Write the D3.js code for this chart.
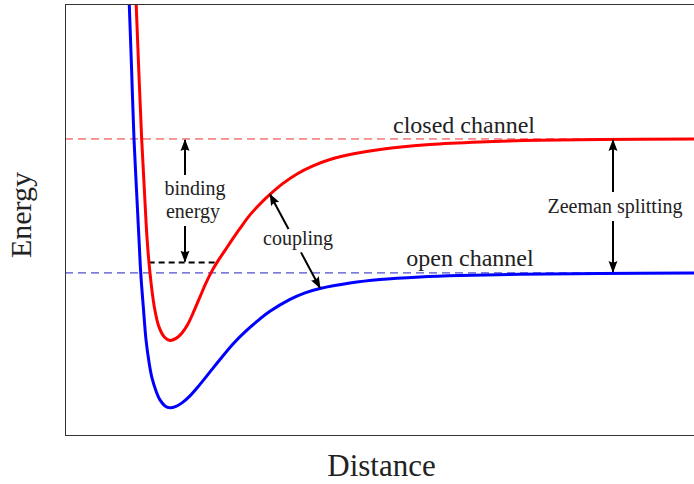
<!DOCTYPE html>
<html>
<head>
<meta charset="utf-8">
<script src="https://cdn.jsdelivr.net/npm/d3@7"></script>
<style>
  body { margin: 0; background: #fff; }
  text { font-family: "Liberation Serif", "DejaVu Serif", serif; fill: #222; }
</style>
</head>
<body>
<div id="chart"></div>
<script>
// open channel potential (blue)
const openDist = [1.011, 1.022, 1.059, 1.097, 1.137, 1.177, 1.204, 1.245, 1.288, 1.335, 1.383, 1.447, 1.510, 1.590, 1.669,
  1.765, 1.860, 1.987, 2.146, 2.305, 2.464, 2.671, 2.862, 3.052, 3.259, 3.577, 3.816, 4.054, 4.531, 5.008, 5.644, 6.280, 7.234, 8.506, 10.0];
const openEnergy = [2.112, 2.0, 1.515, 1.0, 0.619, 0.246, 0.0, -0.254, -0.500, -0.664, -0.784, -0.881, -0.948, -0.993, -1.007,
  -0.996, -0.970, -0.918, -0.832, -0.739, -0.646, -0.530, -0.440, -0.362, -0.287, -0.198, -0.149, -0.116, -0.075, -0.049, -0.030, -0.019, -0.010, -0.004, -0.001];

// closed channel potential (red)
const closedDist = [1.122, 1.132, 1.176, 1.219, 1.262, 1.304, 1.351, 1.420, 1.494, 1.579, 1.669,
  1.765, 1.860, 1.955, 2.051, 2.146, 2.242, 2.337, 2.432, 2.544, 2.655, 2.782, 2.941, 3.100, 3.259,
  3.466, 3.688, 3.943, 4.213, 4.610, 5.008, 5.803, 6.598, 7.552, 8.506, 10.0];
const closedEnergy = [2.112, 2.0, 1.478, 1.0, 0.619, 0.261, 0.0, -0.254, -0.403, -0.478, -0.504,
  -0.489, -0.448, -0.381, -0.284, -0.179, -0.075, 0.015, 0.090, 0.168, 0.246, 0.332, 0.433, 0.515, 0.586,
  0.668, 0.739, 0.799, 0.847, 0.892, 0.922, 0.959, 0.978, 0.990, 0.996, 0.999];

// levels and annotations
const openLevel = 0;
const closedLevel = 1;
const boundLevel = 0.077;
const boundRange = [1.330, 2.401];
const bindingArrowDist = 1.908;
const couplingFrom = [3.259, 0.586];
const couplingTo = [4.054, -0.112];
const zeemanArrowDist = 8.712;

const width = 694, height = 484;
const margin = { top: 5, right: 0, bottom: 49, left: 65 };

const svg = d3.select('#chart').append('svg')
  .attr('width', width)
  .attr('height', height);

const x = d3.scaleLinear().domain([0, 10]).range([margin.left, width - margin.right]);
const y = d3.scaleLinear().domain([-1.21, 2.0]).range([height - margin.bottom, margin.top]);

svg.append('defs').append('clipPath').attr('id', 'plot')
  .append('rect')
  .attr('x', margin.left).attr('y', margin.top)
  .attr('width', width - margin.left - margin.right)
  .attr('height', height - margin.top - margin.bottom);

const marker = svg.select('defs').append('marker')
  .attr('id', 'head')
  .attr('markerUnits', 'userSpaceOnUse')
  .attr('viewBox', '0 -5 12 10')
  .attr('refX', 11).attr('refY', 0)
  .attr('markerWidth', 12).attr('markerHeight', 10)
  .attr('orient', 'auto');
marker.append('path')
  .attr('d', 'M0,-4.5 Q3,0 0,4.5 L12,0 Z')
  .attr('fill', '#000');

const plot = svg.append('g').attr('clip-path', 'url(#plot)');

// dashed asymptotes
plot.append('line')
  .attr('x1', x(0)).attr('x2', x(10))
  .attr('y1', y(closedLevel)).attr('y2', y(closedLevel))
  .attr('stroke', '#f03030').attr('stroke-width', 1)
  .attr('stroke-dasharray', '8,5');

plot.append('line')
  .attr('x1', x(0)).attr('x2', x(10))
  .attr('y1', y(openLevel)).attr('y2', y(openLevel))
  .attr('stroke', '#2020c0').attr('stroke-width', 1)
  .attr('stroke-dasharray', '8,5');

// bound state
plot.append('line')
  .attr('x1', x(boundRange[0])).attr('x2', x(boundRange[1]))
  .attr('y1', y(boundLevel)).attr('y2', y(boundLevel))
  .attr('stroke', '#000').attr('stroke-width', 2)
  .attr('stroke-dasharray', '6,4');

const line = d3.line()
  .x(d => x(d[0]))
  .y(d => y(d[1]))
  .curve(d3.curveCatmullRom.alpha(0.5));

plot.append('path')
  .datum(d3.zip(openDist, openEnergy))
  .attr('fill', 'none')
  .attr('stroke', '#0000ff')
  .attr('stroke-width', 3)
  .attr('d', line);

plot.append('path')
  .datum(d3.zip(closedDist, closedEnergy))
  .attr('fill', 'none')
  .attr('stroke', '#ff0000')
  .attr('stroke-width', 3)
  .attr('d', line);

// arrow pieces, each with a head at its outer end
function arrow(x1, y1, x2, y2) {
  svg.append('line')
    .attr('x1', x1).attr('y1', y1)
    .attr('x2', x2).attr('y2', y2)
    .attr('stroke', '#000').attr('stroke-width', 2)
    .attr('marker-end', 'url(#head)');
}

// binding energy
const bx = x(bindingArrowDist);
arrow(bx, 175, bx, y(closedLevel) + 1);
arrow(bx, 226, bx, y(boundLevel) - 1);
svg.append('text').attr('x', bx + 10).attr('y', 195)
  .attr('text-anchor', 'middle').attr('font-size', 20).text('binding');
svg.append('text').attr('x', bx + 8).attr('y', 218)
  .attr('text-anchor', 'middle').attr('font-size', 20).text('energy');

// coupling
const c0 = [x(couplingFrom[0]), y(couplingFrom[1])];
const c1 = [x(couplingTo[0]), y(couplingTo[1])];
const along = t => [c0[0] + (c1[0] - c0[0]) * t, c0[1] + (c1[1] - c0[1]) * t];
const ca = along(0.37), cb = along(0.62);
arrow(ca[0], ca[1], c0[0], c0[1]);
arrow(cb[0], cb[1], c1[0], c1[1]);
svg.append('text').attr('x', 298).attr('y', 245)
  .attr('text-anchor', 'middle').attr('font-size', 20).text('coupling');

// Zeeman splitting
const zx = x(zeemanArrowDist);
arrow(zx, 192, zx, y(closedLevel) + 1);
arrow(zx, 221, zx, y(openLevel) - 1);
svg.append('text').attr('x', 615).attr('y', 213)
  .attr('text-anchor', 'middle').attr('font-size', 20).text('Zeeman splitting');

// channel labels
svg.append('text').attr('x', 464).attr('y', 133)
  .attr('text-anchor', 'middle').attr('font-size', 24).text('closed channel');
svg.append('text').attr('x', 470).attr('y', 266)
  .attr('text-anchor', 'middle').attr('font-size', 24).text('open channel');

// frame
svg.append('rect')
  .attr('x', margin.left + 0.5).attr('y', margin.top - 0.5)
  .attr('width', width - margin.left + 2).attr('height', height - margin.top - margin.bottom + 1)
  .attr('fill', 'none').attr('stroke', '#333').attr('stroke-width', 1);

// axis titles
svg.append('text')
  .attr('x', (margin.left + width) / 2 + 2).attr('y', 476)
  .attr('text-anchor', 'middle').attr('font-size', 31).text('Distance');
svg.append('text')
  .attr('transform', 'translate(31,215) rotate(-90)')
  .attr('text-anchor', 'middle').attr('font-size', 30).text('Energy');
</script>
</body>
</html>
